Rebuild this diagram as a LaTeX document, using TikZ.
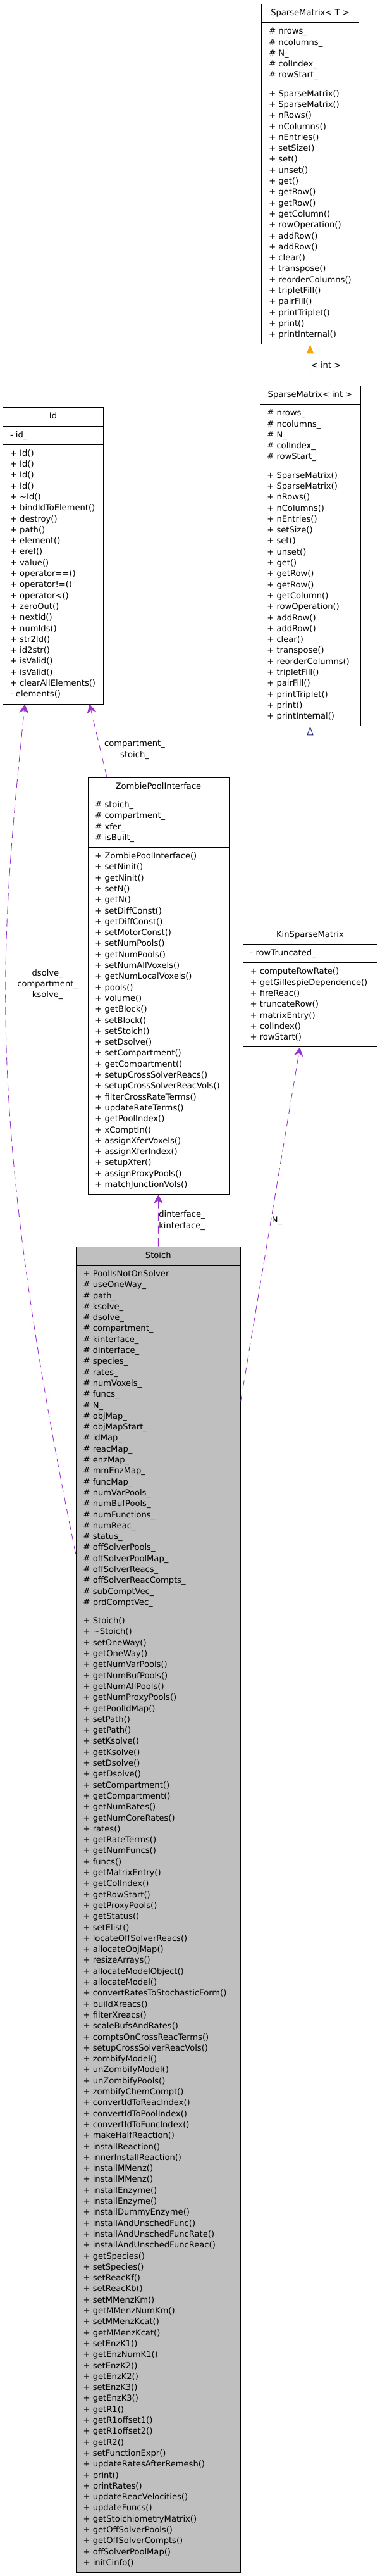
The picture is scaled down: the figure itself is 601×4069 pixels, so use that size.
\documentclass[tikz,border=0pt]{standalone}
\usepackage{fontspec}
\setmainfont{DejaVu Sans}
\usetikzlibrary{positioning, arrows.meta, shapes.multipart}

\definecolor{dxorange}{HTML}{FFA500}
\definecolor{dxpurple}{HTML}{9A32CD}
\definecolor{dxblue}{HTML}{191970}
\definecolor{dxgrey}{HTML}{BFBFBF}

% one strut-high line per member, list given with commas
\ExplSyntaxOn
\NewDocumentCommand \members { m }
  {
    \seq_set_from_clist:Nn \l_tmpa_seq {#1}
    \vbox { \seq_map_inline:Nn \l_tmpa_seq { \hbox { \strut ##1 } } }
  }
\ExplSyntaxOff

\newcommand\smAttrs{\members{\# nrows\_, \# ncolumns\_, \# N\_, \# colIndex\_, \# rowStart\_}}
\newcommand\smMethods{\members{+ SparseMatrix(), + SparseMatrix(), + nRows(), + nColumns(),
  + nEntries(), + setSize(), + set(), + unset(), + get(), + getRow(), + getRow(),
  + getColumn(), + rowOperation(), + addRow(), + addRow(), + clear(), + transpose(),
  + reorderColumns(), + tripletFill(), + pairFill(), + printTriplet(), + print(),
  + printInternal()}}

\begin{document}
\begin{tikzpicture}[
  x=1pt, y=-1pt,
  font=\fontsize{13.1pt}{17.3pt}\selectfont,
  cls/.style={
    draw=black, line width=0.9pt, fill=white,
    rectangle split, rectangle split parts=3,
    rectangle split part align={center, left, left},
    anchor=north, inner xsep=11.4pt, inner ysep=5.5pt
  },
  curcls/.style={cls, fill=dxgrey},
  inh/.style ={draw=dxblue, line width=0.9pt, -{Triangle[open, length=14pt, width=10pt]}},
  tmpl/.style={draw=dxorange, line width=0.9pt, dash pattern=on 13pt off 7pt,
               -{Triangle[length=14pt, width=11pt, fill=dxorange]}},
  usedby/.style={draw=dxpurple, line width=0.9pt, dash pattern=on 13pt off 7pt,
               -{Stealth[length=14pt, width=15pt, inset=4.5pt]}},
  lbl/.style={inner sep=1pt, align=center},
]

\useasboundingbox (0,0) rectangle (601,4069);

\def\xR{490.5}
\def\xId{84}

%% ====================================================================
%%  RIGHT COLUMN -- SPARSE MATRICES
%% ====================================================================
\node[cls, minimum width=152pt] (smT) at (\xR, 6)
  {\strut SparseMatrix< T >\nodepart{two}\smAttrs\nodepart{three}\smMethods};

\node[cls, minimum width=159pt] (smInt) at (\xR, 609)
  {\strut SparseMatrix< int >\nodepart{two}\smAttrs\nodepart{three}\smMethods};

\node[cls, minimum width=212.4pt] (kinSM) at (\xR, 1462) {
  \strut KinSparseMatrix
  \nodepart{two}\members{- rowTruncated\_}
  \nodepart{three}\members{+ computeRowRate(), + getGillespieDependence(), + fireReac(),
    + truncateRow(), + matrixEntry(), + colIndex(), + rowStart()}
};

\draw[tmpl] (smInt.north) -- node[lbl, right, align=left]{< int >} (smT.south);
\draw[inh] (kinSM.north) -- (smInt.south);

%% ====================================================================
%%  LEFT COLUMN -- ID AND POOL INTERFACE
%% ====================================================================
\node[cls, minimum width=158.6pt] (idCls) at (\xId, 643.3) {
  \strut Id
  \nodepart{two}\members{- id\_}
  \nodepart{three}\members{+ Id(), + Id(), + Id(), + Id(), + \textasciitilde Id(),
    + bindIdToElement(), + destroy(), + path(), + element(), + eref(), + value(),
    + operator==(), + operator!=(), + operator<(), + zeroOut(), + nextId(),
    + numIds(), + str2Id(), + id2str(), + isValid(), + isValid(),
    + clearAllElements(), - elements()}
};

\node[cls, minimum width=223pt] (zpi) at (250.5, 1227.7) {
  \strut ZombiePoolInterface
  \nodepart{two}\members{\# stoich\_, \# compartment\_, \# xfer\_, \# isBuilt\_}
  \nodepart{three}\members{+ ZombiePoolInterface(), + setNinit(), + getNinit(), + setN(),
    + getN(), + setDiffConst(), + getDiffConst(), + setMotorConst(), + setNumPools(),
    + getNumPools(), + setNumAllVoxels(), + getNumLocalVoxels(), + pools(), + volume(),
    + getBlock(), + setBlock(), + setStoich(), + setDsolve(), + setCompartment(),
    + getCompartment(), + setupCrossSolverReacs(), + setupCrossSolverReacVols(),
    + filterCrossRateTerms(), + updateRateTerms(), + getPoolIndex(), + xComptIn(),
    + assignXferVoxels(), + assignXferIndex(), + setupXfer(), + assignProxyPools(),
    + matchJunctionVols()}
};

%% ====================================================================
%%  STOICH (CURRENT CLASS)
%% ====================================================================
\node[curcls, minimum width=260pt] (stoich) at (250.3, 1968.7) {
  \strut Stoich
  \nodepart{two}\members{+ PoolIsNotOnSolver, \# useOneWay\_, \# path\_, \# ksolve\_,
    \# dsolve\_, \# compartment\_, \# kinterface\_, \# dinterface\_, \# species\_,
    \# rates\_, \# numVoxels\_, \# funcs\_, \# N\_, \# objMap\_, \# objMapStart\_,
    \# idMap\_, \# reacMap\_, \# enzMap\_, \# mmEnzMap\_, \# funcMap\_, \# numVarPools\_,
    \# numBufPools\_, \# numFunctions\_, \# numReac\_, \# status\_, \# offSolverPools\_,
    \# offSolverPoolMap\_, \# offSolverReacs\_, \# offSolverReacCompts\_,
    \# subComptVec\_, \# prdComptVec\_}
  \nodepart{three}\members{+ Stoich(), + \textasciitilde Stoich(), + setOneWay(),
    + getOneWay(), + getNumVarPools(), + getNumBufPools(), + getNumAllPools(),
    + getNumProxyPools(), + getPoolIdMap(), + setPath(), + getPath(), + setKsolve(),
    + getKsolve(), + setDsolve(), + getDsolve(), + setCompartment(), + getCompartment(),
    + getNumRates(), + getNumCoreRates(), + rates(), + getRateTerms(), + getNumFuncs(),
    + funcs(), + getMatrixEntry(), + getColIndex(), + getRowStart(), + getProxyPools(),
    + getStatus(), + setElist(), + locateOffSolverReacs(), + allocateObjMap(),
    + resizeArrays(), + allocateModelObject(), + allocateModel(),
    + convertRatesToStochasticForm(), + buildXreacs(), + filterXreacs(),
    + scaleBufsAndRates(), + comptsOnCrossReacTerms(), + setupCrossSolverReacVols(),
    + zombifyModel(), + unZombifyModel(), + unZombifyPools(), + zombifyChemCompt(),
    + convertIdToReacIndex(), + convertIdToPoolIndex(), + convertIdToFuncIndex(),
    + makeHalfReaction(), + installReaction(), + innerInstallReaction(),
    + installMMenz(), + installMMenz(), + installEnzyme(), + installEnzyme(),
    + installDummyEnzyme(), + installAndUnschedFunc(), + installAndUnschedFuncRate(),
    + installAndUnschedFuncReac(), + getSpecies(), + setSpecies(), + setReacKf(),
    + setReacKb(), + setMMenzKm(), + getMMenzNumKm(), + setMMenzKcat(),
    + getMMenzKcat(), + setEnzK1(), + getEnzNumK1(), + setEnzK2(), + getEnzK2(),
    + setEnzK3(), + getEnzK3(), + getR1(), + getR1offset1(), + getR1offset2(),
    + getR2(), + setFunctionExpr(), + updateRatesAfterRemesh(), + print(),
    + printRates(), + updateReacVelocities(), + updateFuncs(),
    + getStoichiometryMatrix(), + getOffSolverPools(), + getOffSolverCompts(),
    + offSolverPoolMap(), + initCinfo()}
};

%% ====================================================================
%%  USAGE EDGES
%% ====================================================================
\draw[usedby] ([yshift=-244.3pt]stoich.north east)
  -- node[lbl, right, pos=0.51]{N\_} ([xshift=-16.2pt]kinSM.south);

\draw[usedby] (stoich.north)
  -- node[lbl, right, inner xsep=0.5pt, align=left]{dinterface\_\\kinterface\_} (zpi.south);

\draw[usedby] ([xshift=-81.5pt]zpi.north)
  -- node[lbl, right=5pt, pos=0.376]{compartment\_\\stoich\_} ([xshift=57.7pt]idCls.south);

\draw[usedby] ([yshift=-486.3pt]stoich.north west)
  .. controls (-25,1750) and (0,1500) ..
  node[lbl, pos=0.595, right=17pt]{dsolve\_\\compartment\_\\ksolve\_}
  ([xshift=-44.7pt]idCls.south);

\end{tikzpicture}
\end{document}
